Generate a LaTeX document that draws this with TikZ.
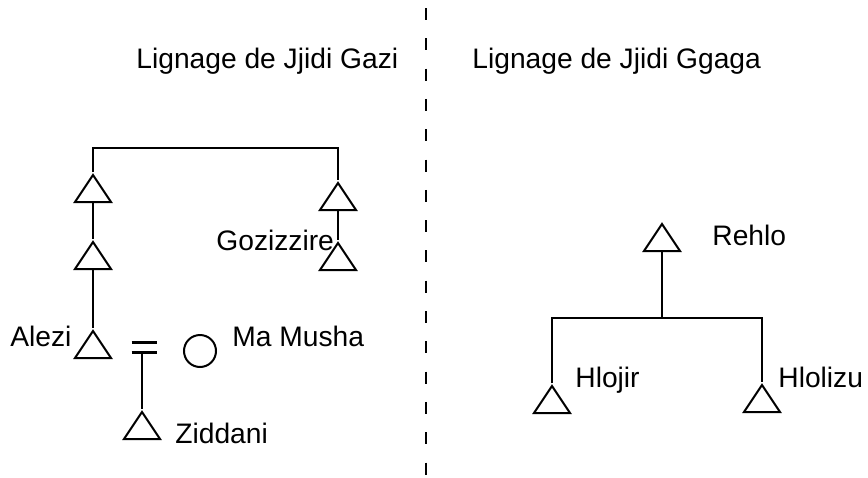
\documentclass[tikz,border=0pt]{standalone}
\usepackage{fontspec}
\setmainfont{Liberation Sans}
\usetikzlibrary{positioning,shapes.geometric}

\begin{document}
\begin{tikzpicture}
    [ x = .5pt, y = -.5pt
    , font = \fontsize{14.1pt}{17pt}\selectfont
    , man/.style =
      { draw, line width = 1pt, isosceles triangle, isosceles triangle stretches
      , shape border rotate = 90, minimum width = 18pt, minimum height = 13.5pt
      , inner sep = 0pt, anchor = south }
    , woman/.style =
      { draw, line width = 1pt, circle, minimum size = 16pt, inner sep = 0pt }
    , link/.style =
      { line width = 1pt }
    , married/.style =
      { minimum width = 12.5pt, minimum height = 4.5pt, inner sep = 0pt }
    , bars/.style =
      { line width = 1.75pt }
    , kinname/.style =
      { anchor = base west, inner sep = 0pt }
    , divider/.style =
      { line width = 1pt, dash pattern = on 6pt off 9.15pt }
    ]
    \useasboundingbox (0,0) rectangle (868,477);

    % the two lineages and the line between them
    \node [kinname] (ttlgazi) at (136,68) {Lignage de Jjidi Gazi};
    \node [kinname] (ttlggaga) at (472,68) {Lignage de Jjidi Ggaga};
    \draw [divider] (425.5,8) -- (425.5,476);

    % Jjidi Gazi
    \node [man] (jg1) at (93,203) {};
    \node [man] (jg2) at (93,270) {};
    \node [man] (alezi) at (93,359) {};
    \node [man] (gz1) at (338,211) {};
    \node [man] (gz2) at (338,271) {};
    \node [woman] (musha) at (200,351) {};
    \node [married] (mar) at (144.5,347.5) {};
    \node [man] (zid) at (142,440) {};
    \coordinate (jgtop) at (93,148);

    \node [kinname] (lgozi) at (216,250) {Gozizzire};
    \node [kinname] (lalezi) at (10,346) {Alezi};
    \node [kinname] (lmusha) at (232,346) {Ma Musha};
    \node [kinname] (lzid) at (175,443) {Ziddani};

    \draw [link] (jg1.north) -- (jgtop) -| (gz1.north);
    \draw [link] (jg1.south) -- (jg2.north);
    \draw [link] (jg2.south) -- (alezi.north);
    \draw [link] (gz1.south) -- (gz2.north);
    \draw [bars] (mar.north west) -- (mar.north east)
                 (mar.south west) -- (mar.south east);
    \draw [link] (mar.south -| zid.north) -- (zid.north);

    % Jjidi Ggaga
    \node [man] (rehlo) at (662,252) {};
    \node [man] (hlojir) at (552,414) {};
    \node [man] (hlolizu) at (762,413) {};
    \coordinate (rhbar) at (662,318);

    \node [kinname] (lrehlo) at (712,245) {Rehlo};
    \node [kinname] (lhlojir) at (575,387) {Hlojir};
    \node [kinname] (lhlolizu) at (778,387) {Hlolizu};

    \draw [link] (rehlo.south) -- (rhbar);
    \draw [link] (hlojir.north) |- (rhbar) -| (hlolizu.north);
  \end{tikzpicture}
\end{document}
